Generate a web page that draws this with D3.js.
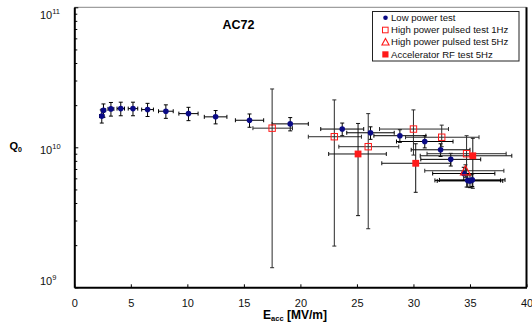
<!DOCTYPE html>
<html>
<head>
<meta charset="utf-8">
<title>AC72</title>
<script src="https://d3js.org/d3.v7.min.js"></script>
<style>
  body { margin: 0; background: #fff; }
  text { font-family: Arial, "Liberation Sans", sans-serif; }
</style>
</head>
<body>
<script>
// Low power test
const lowE  = [2.43, 2.58, 3.24, 4.11, 5.19, 6.48, 8.10, 10.1, 12.5, 15.5, 19.1, 23.7, 26.2, 28.8, 31.0, 32.4, 33.3, 34.45, 34.8, 35.0, 35.2];
const lowQ  = [1.67e10, 1.84e10, 1.88e10, 1.89e10, 1.89e10, 1.86e10, 1.81e10, 1.74e10, 1.65e10, 1.56e10, 1.47e10, 1.35e10, 1.27e10, 1.21e10, 1.10e10, 9.6e9, 8.2e9, 6.5e9, 5.8e9, 5.75e9, 5.85e9];
const lowdE = [0.2, 0.2, 0.26, 0.33, 0.42, 0.52, 0.65, 0.85, 1.0, 1.25, 1.6, 1.9, 2.1, 2.3, 2.5, 2.6, 2.65, 2.75, 2.9, 2.9, 2.9];
const lowdQ = [1.8e9, 2.0e9, 2.1e9, 2.1e9, 2.1e9, 2.0e9, 2.0e9, 1.9e9, 1.8e9, 1.7e9, 1.6e9, 1.4e9, 1.3e9, 1.25e9, 1.1e9, 1.0e9, 0.85e9, 0.7e9, 0.6e9, 0.6e9, 0.6e9];

// High power pulsed test 1Hz
const p1E   = [17.5, 23.0, 26.0, 30.0, 32.5, 34.7];
const p1Q   = [1.37e10, 1.19e10, 1.01e10, 1.35e10, 1.18e10, 9.0e9];
const p1Elo = [15.8, 20.7, 23.4, 27.0, 29.3, 31.2];
const p1Ehi = [19.3, 25.4, 28.7, 33.1, 35.8, 38.2];
const p1Qlo = [1.38e9, 1.97e9, 2.62e9, 8.8e9, 1.01e10, 5.2e9];
const p1Qhi = [2.61e10, 2.18e10, 1.74e10, 1.85e10, 1.44e10, 1.21e10];

// High power pulsed test 5Hz
const p5E   = [34.6];
const p5Q   = [6.8e9];
const p5Elo = [31.0];
const p5Ehi = [38.0];
const p5Qlo = [6.1e9];
const p5Qhi = [7.5e9];

// Accelerator RF test 5Hz
const accE   = [25.1, 30.2, 35.25];
const accQ   = [8.96e9, 7.69e9, 8.7e9];
const accElo = [22.5, 27.2, 30.6];
const accEhi = [27.6, 33.3, 38.7];
const accQlo = [3.25e9, 4.77e9, 5.1e9];
const accQhi = [1.48e10, 1.06e10, 1.16e10];

const xTicks = [0, 5, 10, 15, 20, 25, 30, 35, 40];
const yDecades = [9, 10, 11];
const legendLabels = ["Low power test", "High power pulsed test 1Hz", "High power pulsed test 5Hz", "Accelerator RF test 5Hz"];

const W = 532, H = 325;
const svg = d3.select("body").append("svg").attr("width", W).attr("height", H);

const x = d3.scaleLinear().domain([0, 40]).range([74.3, 526.5]);
const y = d3.scaleLog().domain([1e9, 1e11]).range([287.3, 7.3]);

// build point tables
const low = lowE.map((e, i) => ({e, q: lowQ[i], elo: e - lowdE[i], ehi: e + lowdE[i], qlo: lowQ[i] - lowdQ[i], qhi: lowQ[i] + lowdQ[i]}));
const mk = (E, Q, Elo, Ehi, Qlo, Qhi) => E.map((e, i) => ({e, q: Q[i], elo: Elo[i], ehi: Ehi[i], qlo: Qlo[i], qhi: Qhi[i]}));
const p1 = mk(p1E, p1Q, p1Elo, p1Ehi, p1Qlo, p1Qhi);
const p5 = mk(p5E, p5Q, p5Elo, p5Ehi, p5Qlo, p5Qhi);
const acc = mk(accE, accQ, accElo, accEhi, accQlo, accQhi);

// frame: thin top, thick right
svg.append("line").attr("x1", x(0)).attr("x2", x(40)).attr("y1", y(1e11)).attr("y2", y(1e11))
  .attr("stroke", "#888").attr("stroke-width", 1);
svg.append("line").attr("x1", x(40)).attr("x2", x(40)).attr("y1", y(1e11)).attr("y2", y(1e9))
  .attr("stroke", "#000").attr("stroke-width", 2);

// x axis
const xAxis = svg.append("g").attr("transform", `translate(0,${y(1e9)})`)
  .call(d3.axisBottom(x).tickValues(xTicks).tickSize(-3).tickSizeOuter(0).tickPadding(12));
xAxis.select(".domain").attr("stroke-width", 2);
xAxis.selectAll("text").attr("font-size", 11).attr("font-family", "Arial, 'Liberation Sans', sans-serif").attr("fill", "#111");

// y axis: minor + major ticks inward
const minor = [];
[1e9, 1e10].forEach(d => { for (let k = 2; k <= 9; k++) minor.push(d * k); });
const yAxis = svg.append("g").attr("transform", `translate(${x(0)},0)`)
  .call(d3.axisLeft(y).tickValues(minor).tickSize(-3).tickSizeOuter(0).tickFormat(""));
yAxis.select(".domain").attr("stroke-width", 2);
svg.append("g").attr("transform", `translate(${x(0)},0)`)
  .call(d3.axisLeft(y).tickValues(yDecades.map(p => Math.pow(10, p))).tickSize(-4).tickFormat(""))
  .select(".domain").remove();

// y tick labels with superscripts
const labelDy = {9: -2.3, 10: 6.3, 11: 12};
yDecades.forEach(p => {
  const t = svg.append("text").attr("x", 40).attr("y", y(Math.pow(10, p)) + labelDy[p])
    .attr("font-size", 11).attr("fill", "#111");
  t.append("tspan").text("10");
  t.append("tspan").attr("font-size", 7.5).attr("dy", -5).text(p);
});

// axis titles
const xt = svg.append("text").attr("x", 295).attr("y", 318.5).attr("text-anchor", "middle")
  .attr("font-size", 12).attr("font-weight", "bold");
xt.append("tspan").text("E");
xt.append("tspan").attr("font-size", 7.5).attr("dy", 2).text("acc");
xt.append("tspan").attr("dy", -2).text(" [MV/m]");

const yt = svg.append("text").attr("x", 9.5).attr("y", 150).attr("font-size", 11).attr("font-weight", "bold");
yt.append("tspan").text("Q");
yt.append("tspan").attr("font-size", 7).attr("dy", 2).text("0");

// title
svg.append("text").attr("x", 238.5).attr("y", 29).attr("text-anchor", "middle")
  .attr("font-size", 12.5).attr("font-weight", "bold").text("AC72");

// error bars
function errorBars(data, color) {
  const g = svg.append("g").attr("stroke", color).attr("stroke-width", 1).attr("fill", "none");
  data.forEach(d => {
    const cx = x(d.e), cy = y(d.q);
    g.append("line").attr("x1", x(d.elo)).attr("x2", x(d.ehi)).attr("y1", cy).attr("y2", cy);
    g.append("line").attr("x1", x(d.elo)).attr("x2", x(d.elo)).attr("y1", cy - 2).attr("y2", cy + 2);
    g.append("line").attr("x1", x(d.ehi)).attr("x2", x(d.ehi)).attr("y1", cy - 2).attr("y2", cy + 2);
    g.append("line").attr("x1", cx).attr("x2", cx).attr("y1", y(d.qlo)).attr("y2", y(d.qhi));
    g.append("line").attr("x1", cx - 2).attr("x2", cx + 2).attr("y1", y(d.qlo)).attr("y2", y(d.qlo));
    g.append("line").attr("x1", cx - 2).attr("x2", cx + 2).attr("y1", y(d.qhi)).attr("y2", y(d.qhi));
  });
}
errorBars(low, "#000");
errorBars(p1, "#2a2a2a");
errorBars(p5, "#2a2a2a");
errorBars(acc, "#111");

const navy = "#0a0a85", red = "#ff1a1a";
const triPath = s => `M0,${-s * 0.55}L${s * 0.55},${s * 0.45}L${-s * 0.55},${s * 0.45}Z`;

// markers
svg.append("g").selectAll("circle").data(low).join("circle")
  .attr("cx", d => x(d.e)).attr("cy", d => y(d.q)).attr("r", 2.8).attr("fill", navy);
svg.append("g").selectAll("rect").data(p1).join("rect")
  .attr("x", d => x(d.e) - 3.2).attr("y", d => y(d.q) - 3.2).attr("width", 6.4).attr("height", 6.4)
  .attr("fill", "none").attr("stroke", red).attr("stroke-width", 1);
svg.append("g").selectAll("path").data(p5).join("path")
  .attr("transform", d => `translate(${x(d.e)},${y(d.q)})`).attr("d", triPath(9))
  .attr("fill", "none").attr("stroke", red).attr("stroke-width", 1.2);
svg.append("g").selectAll("rect").data(acc).join("rect")
  .attr("x", d => x(d.e) - 3.4).attr("y", d => y(d.q) - 3.4).attr("width", 6.8).attr("height", 6.8)
  .attr("fill", red);

// legend
const lg = svg.append("g");
lg.append("rect").attr("x", 372.5).attr("y", 11.5).attr("width", 146.5).attr("height", 49.5)
  .attr("fill", "#fff").attr("stroke", "#222").attr("stroke-width", 1);
const rows = [17.7, 30, 42, 54.3];
legendLabels.forEach((lab, i) => {
  const cy = rows[i];
  if (i === 0) lg.append("circle").attr("cx", 385.5).attr("cy", cy).attr("r", 2.3).attr("fill", navy);
  if (i === 1) lg.append("rect").attr("x", 382.5).attr("y", cy - 2.8).attr("width", 5.6).attr("height", 5.6)
    .attr("fill", "none").attr("stroke", red);
  if (i === 2) lg.append("path").attr("transform", `translate(385.5,${cy})`).attr("d", triPath(6.5))
    .attr("fill", "none").attr("stroke", red).attr("stroke-width", 1.1);
  if (i === 3) lg.append("rect").attr("x", 382.3).attr("y", cy - 3).attr("width", 6.2).attr("height", 6.2).attr("fill", red);
  lg.append("text").attr("x", 391).attr("y", cy + 3.3).attr("font-size", 9.6).attr("fill", "#111").text(lab);
});
</script>
</body>
</html>
